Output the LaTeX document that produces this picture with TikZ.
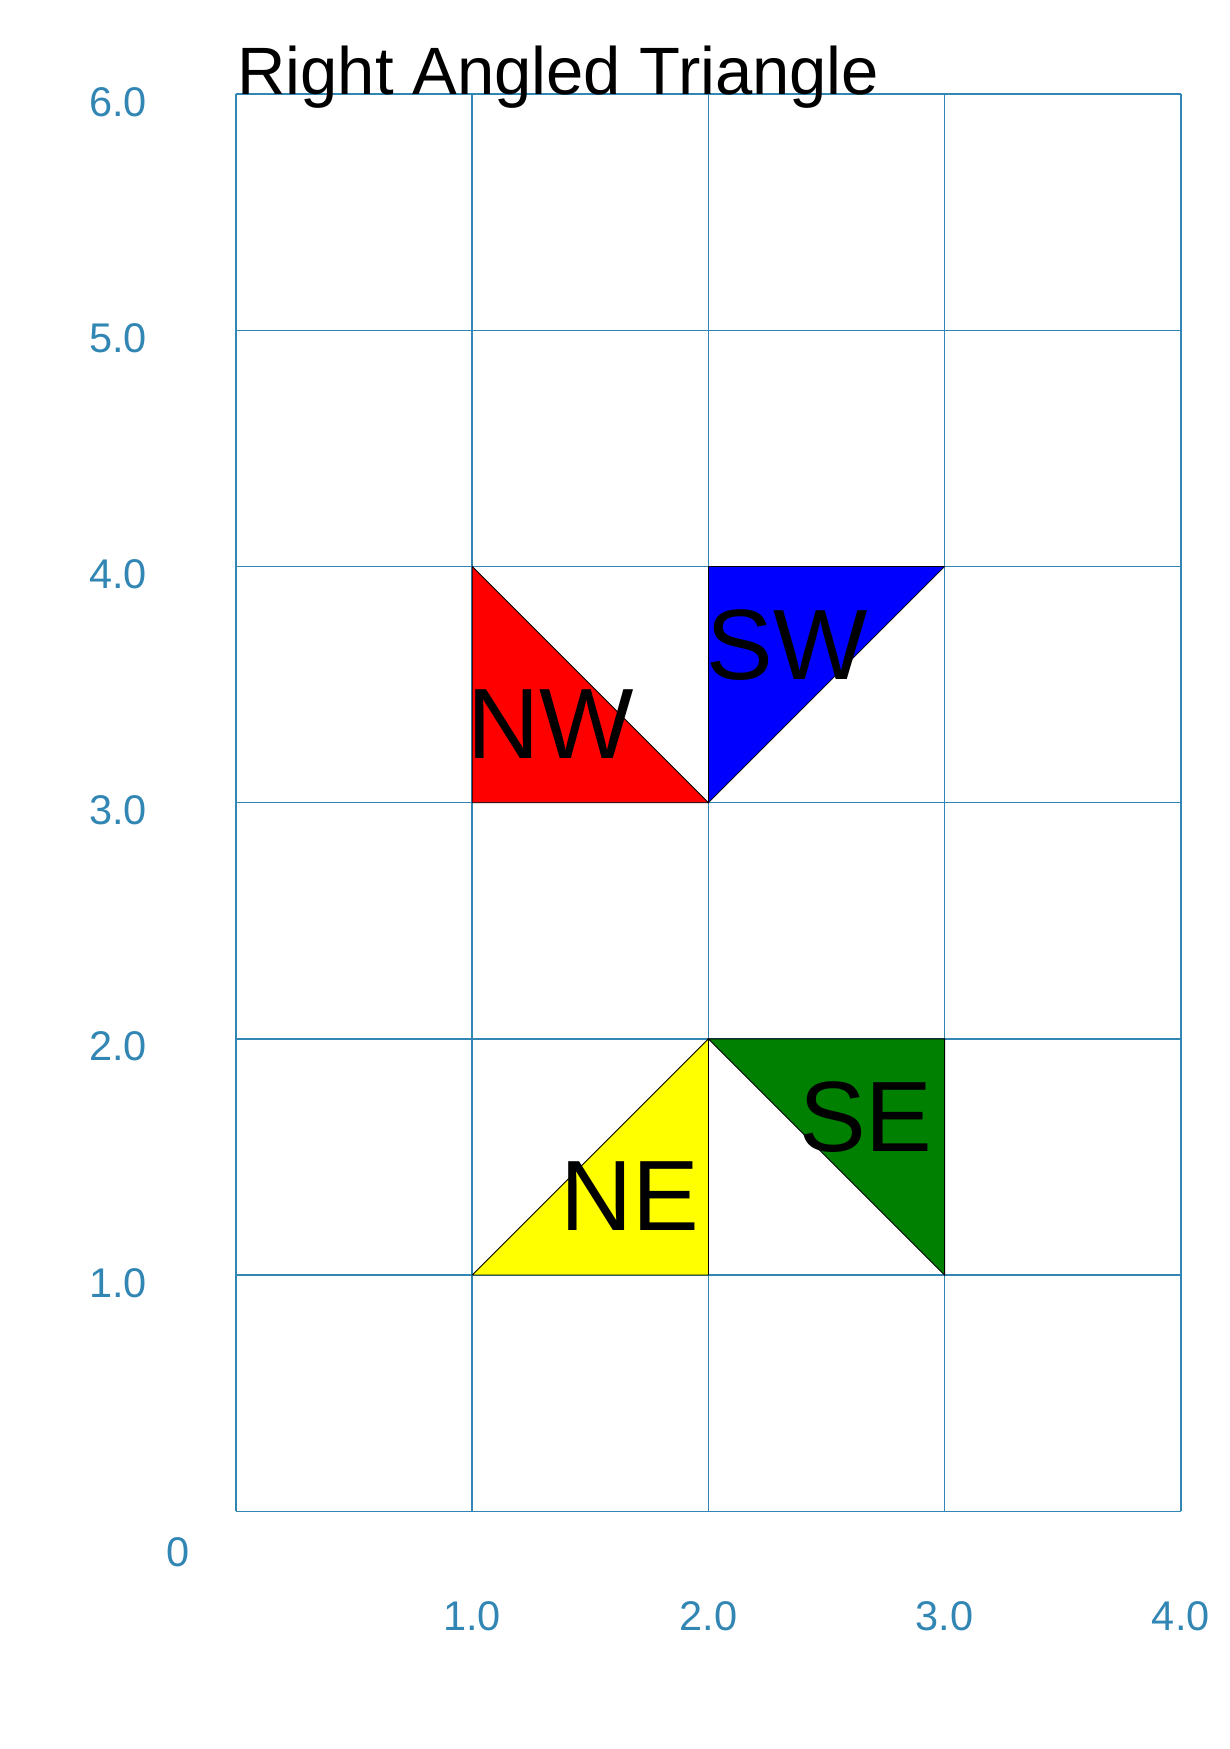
\documentclass[tikz,border=0pt]{standalone}
\usepackage{fontspec}
\setmainfont{Liberation Sans}
\definecolor{axblue}{RGB}{50,134,180}
\definecolor{mplgreen}{RGB}{0,128,0}
\definecolor{mplyellow}{RGB}{255,255,0}
\begin{document}
\begin{tikzpicture}[x=236.2pt,y=236.2pt,
  gridline/.style={draw=axblue,line width=1.5pt},
  tri/.style={draw=black,line width=0.8pt,line join=miter},
  ticklab/.style={text=axblue,font=\fontsize{41.5}{50}\selectfont,inner sep=0pt,anchor=base},
  trilab/.style={font=\fontsize{100}{120}\selectfont,inner sep=0pt,anchor=base},
  titlelab/.style={font=\fontsize{67}{80}\selectfont,inner sep=0pt,anchor=base west}]
\useasboundingbox (-0.99915,-1.00635) rectangle (4.2041,6.3984);
% grid
\foreach \i in {0,...,4} \draw[gridline] (\i,0) -- (\i,6);
\foreach \j in {0,...,6} \draw[gridline] (0,\j) -- (4,\j);
% triangles
\filldraw[tri,fill=red] (1,4) -- (1,3) -- (2,3) -- cycle;
\filldraw[tri,fill=blue] (2,4) -- (3,4) -- (2,3) -- cycle;
\filldraw[tri,fill=mplyellow] (1,1) -- (2,1) -- (2,2) -- cycle;
\filldraw[tri,fill=mplgreen] (2,2) -- (3,2) -- (3,1) -- cycle;
% triangle labels
\node[trilab] (nw) at (1.3333,{3.3333-0.145}) {NW};
\node[trilab] (sw) at (2.3333,{3.6667-0.145}) {SW};
\node[trilab] (ne) at (1.6667,{1.3333-0.145}) {NE};
\node[trilab] (se) at (2.6667,{1.6667-0.145}) {SE};
% title
\node[titlelab] (title) at (0.005,6) {Right Angled Triangle};
% tick labels
\foreach \k in {1,...,6} \node[ticklab] (y\k) at (-0.5,{\k-0.093}) {\k.0};
\foreach \k in {1,...,4} \node[ticklab] (x\k) at (\k,-0.5055) {\k.0};
\node[ticklab] (zero) at (-0.246,-0.232) {0};
\end{tikzpicture}
\end{document}
